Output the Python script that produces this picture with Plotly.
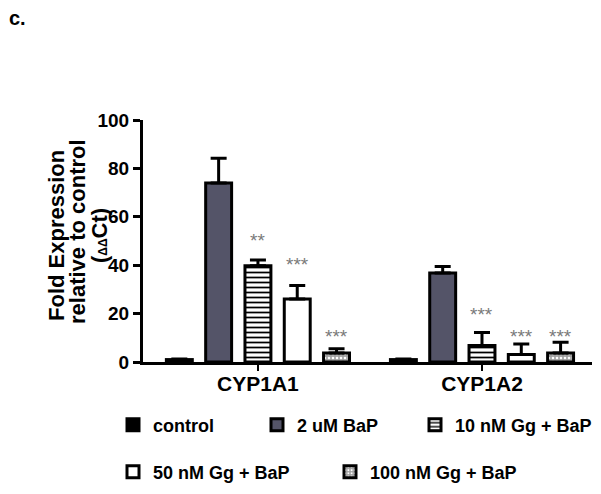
import plotly.graph_objects as go

genes = ["CYP1A1", "CYP1A2"]
series_names = ["control", "2 uM BaP", "10 nM Gg + BaP", "50 nM Gg + BaP", "100 nM Gg + BaP"]
control = [1.0, 1.0]
bap = [74.0, 36.8]
gg10 = [39.8, 6.8]
gg50 = [26.0, 3.1]
gg100 = [3.7, 3.7]
control_err = [0.2, 0.2]
bap_err = [10.2, 2.7]
gg10_err = [2.4, 5.4]
gg50_err = [5.6, 4.3]
gg100_err = [1.8, 4.5]
y_ticks = [0, 20, 40, 60, 80, 100]

# significance labels: (gene index, series index, label, y position)
sig_gene = [0, 0, 0, 1, 1, 1]
sig_series = [2, 3, 4, 2, 3, 4]
sig_label = ["**", "***", "***", "***", "***", "***"]
sig_y = [51.7, 42.1, 12.0, 21.1, 12.0, 12.0]

FONT = "Liberation Sans, Arial, sans-serif"
OFF = 8  # page body margin of the browser
W, H = 601 - OFF, 494 - OFF
L, R, T, B = 143 - OFF, 9, 120 - OFF, 132
pw = W - L - R
ph = H - T - B

def px_x(px):
    return (px - OFF - L) / pw

def px_y(py):
    return (H - B - (py - OFF)) / ph

values = [control, bap, gg10, gg50, gg100]
errs = [control_err, bap_err, gg10_err, gg50_err, gg100_err]
colors = ["black", "#545468", "white", "white", "#a8a8a8"]
patterns = [
    dict(shape=""),
    dict(shape=""),
    dict(shape="-", fgcolor="black", bgcolor="white", size=5, solidity=0.35, fillmode="replace"),
    dict(shape=""),
    dict(shape=".", fgcolor="white", bgcolor="#a0a0a0", size=4, solidity=0.35, fillmode="replace"),
]
legend_ids = ["legend", "legend2", "legend3", "legend4", "legend5"]
legend_text_px = [(153, 425), (297, 425), (455, 425), (153, 472), (370, 472)]

fig = go.Figure()
for i in range(5):
    fig.add_trace(go.Bar(
        x=genes, y=values[i], name=series_names[i],
        marker=dict(color=colors[i], line=dict(color="black", width=3), pattern=patterns[i]),
        error_y=dict(type="data", array=errs[i], arrayminus=[0, 0], symmetric=False,
                     color="black", thickness=3, width=8),
        legend=legend_ids[i],
    ))

bargap = 0.123
bargroupgap = 0.34
pitch = (1 - bargap) / 5

annotations = []
for g, s, lab, yv in zip(sig_gene, sig_series, sig_label, sig_y):
    annotations.append(dict(
        x=g + (s - 2) * pitch, y=yv, xref="x", yref="y", text=lab, showarrow=False,
        font=dict(family=FONT, size=19, color="#7a7a7a"), xanchor="center", yanchor="middle", yshift=-4,
    ))

annotations.append(dict(x=px_x(7), y=px_y(18), xref="paper", yref="paper", text="c.",
                        showarrow=False, xanchor="left", yanchor="middle",
                        font=dict(family=FONT, size=20, color="black", weight="bold")))
title_lines = ["Fold Expression", "relative to control",
               "(<span style='font-size:12px'>ΔΔ</span>Ct)"]
title_px = [(56, 236), (77, 232), (99, 236)]
for t, (xx, yy) in zip(title_lines, title_px):
    annotations.append(dict(x=px_x(xx), y=px_y(yy), xref="paper", yref="paper", text=t,
                            showarrow=False, textangle=-90, xanchor="center", yanchor="middle",
                            font=dict(family=FONT, size=22, color="black", weight="bold")))

legend_cfg = {}
for lid, (tx, ty) in zip(legend_ids, legend_text_px):
    legend_cfg[lid] = dict(
        x=px_x(tx - 40), y=px_y(ty), xanchor="left", yanchor="middle",
        bgcolor="rgba(0,0,0,0)", borderwidth=0,
        font=dict(family=FONT, size=18, color="black", weight="bold"),
    )

fig.update_layout(
    width=W, height=H,
    margin=dict(l=L, r=R, t=T, b=B, pad=0, autoexpand=False),
    paper_bgcolor="white", plot_bgcolor="white",
    barmode="group", bargap=bargap, bargroupgap=bargroupgap,
    showlegend=True,
    annotations=annotations,
    xaxis=dict(range=[-0.513, 1.491], showline=True, linecolor="black", linewidth=3,
               ticks="outside", ticklen=6, tickwidth=2, tickcolor="black",
               showgrid=False, zeroline=False, automargin=False, ticklabelstandoff=-5,
               tickfont=dict(family=FONT, size=21, color="black", weight="bold")),
    yaxis=dict(range=[0, 100], tickvals=y_ticks, showline=True, linecolor="black", linewidth=3,
               ticks="outside", ticklen=7, tickwidth=2.5, tickcolor="black",
               showgrid=False, zeroline=False, automargin=False,
               tickfont=dict(family=FONT, size=19, color="black", weight="bold")),
    **legend_cfg,
)

fig.write_html("out.html")
